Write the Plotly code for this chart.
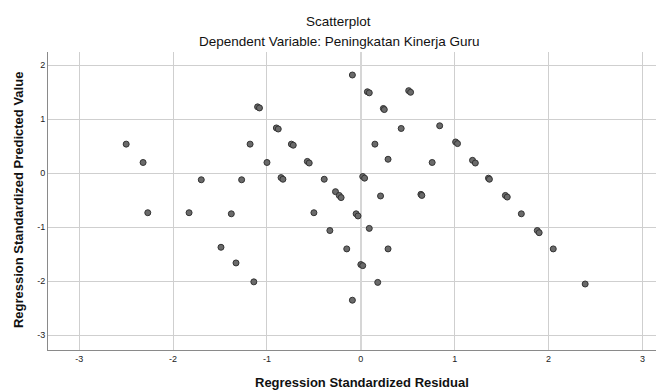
import plotly.graph_objects as go

# Regression Standardized Residual (x) and Regression Standardized Predicted Value (y)
residual = [
    -2.50, -2.32, -2.27, -1.83, -1.70, -1.27, -1.18, -1.10, -1.08, -1.49,
    -1.38, -1.33, -1.14, -0.09, 0.07, 0.09, 0.51, 0.53, 0.24, 0.25,
    -0.90, -0.88, -0.74, -0.72, -1.00, -0.57, -0.55, -0.85, -0.83, -0.39,
    -0.27, -0.23, -0.21, 0.02, 0.04, 0.21, 0.64, 0.65, 0.43, 0.84,
    0.15, 0.29, 0.76, 1.01, 1.03, 1.19, 1.22, 1.36, 1.37, 1.54,
    1.56, 1.71, 1.88, 1.90, 2.05, 2.39, -0.50, -0.05, -0.03, -0.33,
    0.09, -0.15, 0.29, 0.00, 0.02, 0.18, -0.09,
]
predicted = [
    0.54, 0.20, -0.73, -0.73, -0.12, -0.12, 0.54, 1.23, 1.21, -1.37,
    -0.75, -1.66, -2.01, 1.82, 1.51, 1.49, 1.53, 1.50, 1.20, 1.18,
    0.84, 0.82, 0.54, 0.52, 0.20, 0.22, 0.19, -0.08, -0.11, -0.11,
    -0.34, -0.41, -0.45, -0.06, -0.09, -0.42, -0.39, -0.41, 0.83, 0.88,
    0.54, 0.26, 0.20, 0.58, 0.55, 0.24, 0.19, -0.09, -0.11, -0.41,
    -0.44, -0.75, -1.06, -1.10, -1.40, -2.05, -0.73, -0.75, -0.79, -1.06,
    -1.02, -1.40, -1.40, -1.69, -1.71, -2.02, -2.35,
]
tick_values = [-3, -2, -1, 0, 1, 2, 3]
tick_labels = ["-3", "-2", "-1", "0", "1", "2", "3"]

title_text = "Scatterplot"
subtitle_text = "Dependent Variable: Peningkatan Kinerja Guru"
x_title = "Regression Standardized Residual"
y_title = "Regression Standardized Predicted Value"

FONT = "Liberation Sans, Arial, sans-serif"

fig = go.Figure()
fig.add_trace(go.Scatter(
    x=residual, y=predicted, mode="markers",
    marker=dict(size=6, color="#6a6a6a", line=dict(color="#333333", width=1)),
    hoverinfo="x+y", showlegend=False,
))

fig.update_layout(
    width=656, height=384,
    margin=dict(l=40, r=0, t=44, b=42),
    paper_bgcolor="white", plot_bgcolor="white",
    font=dict(family=FONT, color="#111111"),
    xaxis=dict(
        range=[-3.333, 3.23], tickvals=tick_values, ticktext=tick_labels,
        showgrid=True, gridcolor="#cfcfcf", gridwidth=1,
        zeroline=True, zerolinecolor="#d6d6d6", zerolinewidth=2,
        showline=True, linecolor="#8a8a8a", linewidth=1,
        ticks="", tickfont=dict(size=9, color="#222222"),
        ticklabelstandoff=0, fixedrange=True,
    ),
    yaxis=dict(
        range=[-3.272, 2.246], tickvals=tick_values, ticktext=tick_labels,
        showgrid=True, gridcolor="#cfcfcf", gridwidth=1,
        zeroline=False,
        showline=True, linecolor="#8a8a8a", linewidth=1,
        ticks="", tickfont=dict(size=9, color="#222222"),
        ticklabelstandoff=0, fixedrange=True,
    ),
    annotations=[
        dict(text=title_text, xref="paper", yref="paper", x=0.4724, y=1.104,
             xanchor="center", yanchor="middle", showarrow=False,
             font=dict(size=13.5, family=FONT, color="#111111")),
        dict(text=subtitle_text, xref="paper", yref="paper", x=0.4724, y=1.0336,
             xanchor="center", yanchor="middle", showarrow=False,
             font=dict(size=13.5, family=FONT, color="#111111")),
        dict(text="<b>" + x_title + "</b>", xref="paper", yref="paper", x=0.5097, y=-0.1074,
             xanchor="center", yanchor="middle", showarrow=False,
             font=dict(size=13, family=FONT, color="#111111")),
        dict(text="<b>" + y_title + "</b>", xref="paper", yref="paper", x=-0.0487, y=0.503,
             xanchor="center", yanchor="middle", showarrow=False, textangle=-90,
             font=dict(size=13, family=FONT, color="#111111")),
    ],
)

fig.write_html("out.html")
